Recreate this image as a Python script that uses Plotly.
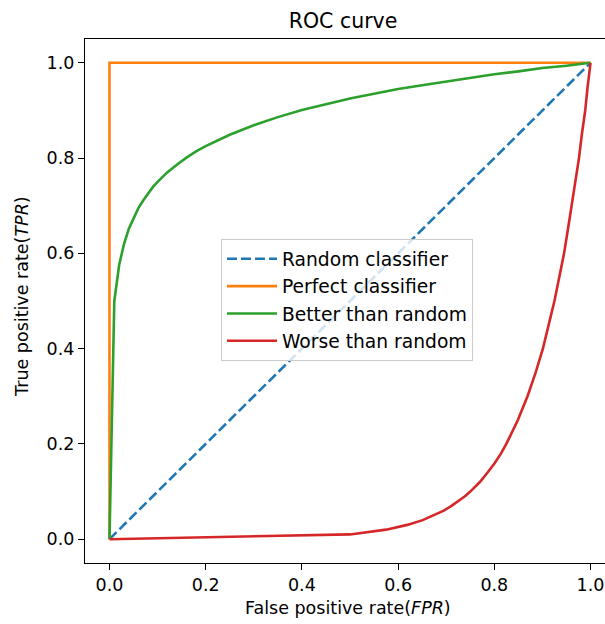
import plotly.graph_objects as go

# Data
random_x = [0.0, 1.0]
random_y = [0.0, 1.0]

perfect_x = [0.0, 0.0, 1.0]
perfect_y = [0.0, 1.0, 1.0]

better_x = [0.0, 0.01, 0.02, 0.03, 0.04, 0.05, 0.06, 0.07, 0.08, 0.09, 0.10,
            0.12, 0.14, 0.16, 0.18, 0.20, 0.25, 0.30, 0.35, 0.40, 0.45, 0.50,
            0.55, 0.60, 0.65, 0.70, 0.75, 0.80, 0.85, 0.90, 0.95, 1.0]
better_y = [0.0, 0.50, 0.575, 0.619, 0.651, 0.675, 0.695, 0.711, 0.726, 0.739, 0.75,
            0.770, 0.786, 0.801, 0.814, 0.825, 0.849, 0.869, 0.886, 0.901, 0.913, 0.925,
            0.935, 0.945, 0.953, 0.961, 0.969, 0.976, 0.982, 0.989, 0.994, 1.0]

worse_x = [0.0, 0.50, 0.575, 0.619, 0.651, 0.675, 0.695, 0.711, 0.726, 0.739, 0.75,
           0.770, 0.786, 0.801, 0.814, 0.825, 0.849, 0.869, 0.886, 0.901, 0.913, 0.925,
           0.935, 0.945, 0.953, 0.961, 0.969, 0.976, 0.982, 0.989, 0.994, 1.0]
worse_y = [0.0, 0.01, 0.02, 0.03, 0.04, 0.05, 0.06, 0.07, 0.08, 0.09, 0.10,
           0.12, 0.14, 0.16, 0.18, 0.20, 0.25, 0.30, 0.35, 0.40, 0.45, 0.50,
           0.55, 0.60, 0.65, 0.70, 0.75, 0.80, 0.85, 0.90, 0.95, 1.0]

tick_vals = [0.0, 0.2, 0.4, 0.6, 0.8, 1.0]
tick_text = ["0.0", "0.2", "0.4", "0.6", "0.8", "1.0"]

FONT = "DejaVu Sans"
LW = 2.6

fig = go.Figure()
fig.add_trace(go.Scatter(x=random_x, y=random_y, mode="lines", name="Random classifier",
                         line=dict(color="#1f77b4", width=LW, dash="10px,4px")))
fig.add_trace(go.Scatter(x=perfect_x, y=perfect_y, mode="lines", name="Perfect classifier",
                         line=dict(color="#ff7f0e", width=LW)))
fig.add_trace(go.Scatter(x=better_x, y=better_y, mode="lines", name="Better than random",
                         line=dict(color="#2ca02c", width=LW)))
fig.add_trace(go.Scatter(x=worse_x, y=worse_y, mode="lines", name="Worse than random",
                         line=dict(color="#d62728", width=LW)))

axis_common = dict(showgrid=False, zeroline=False, showline=True, linecolor="black",
                   linewidth=1.3, ticks="outside", ticklen=6, tickwidth=1.2,
                   tickcolor="black", tickvals=tick_vals, ticktext=tick_text,
                   automargin=False,
                   tickfont=dict(family=FONT, size=17.5, color="black"))

fig.update_layout(
    width=605, height=624,
    margin=dict(l=85, r=0, t=39, b=61, autoexpand=False),
    paper_bgcolor="white", plot_bgcolor="white",
    font=dict(family=FONT, size=17.5, color="black"),
    title=dict(text="ROC curve", x=0.567, xref="container", xanchor="center",
               y=1 - 21 / 624, yref="container", yanchor="middle",
               font=dict(family=FONT, size=20.5, color="black")),
    xaxis=dict(range=[-0.0509, 1.0301], mirror=True, **axis_common),
    yaxis=dict(range=[-0.05, 1.05], mirror=False, **axis_common),
    legend=dict(x=0.2615, y=0.618, xanchor="left", yanchor="top",
                bgcolor="rgba(255,255,255,0.8)", bordercolor="#cccccc", borderwidth=1,
                tracegroupgap=0, itemwidth=50,
                font=dict(family=FONT, size=18.7, color="black")),
    showlegend=True,
)

fig.add_annotation(text="False positive rate(<i>FPR</i>)", xref="paper", yref="paper",
                   x=0.506, y=-0.0859, xanchor="center", yanchor="middle",
                   showarrow=False, font=dict(family=FONT, size=17.5, color="black"))
fig.add_annotation(text="True positive rate(<i>TPR</i>)", xref="paper", yref="paper",
                   x=-0.121, y=0.508, xanchor="center", yanchor="middle", textangle=-90,
                   showarrow=False, font=dict(family=FONT, size=17.5, color="black"))

fig.write_html("out.html",
               config={"displayModeBar": False},
               post_script="document.body.style.margin='0px';document.body.style.overflow='hidden';")
